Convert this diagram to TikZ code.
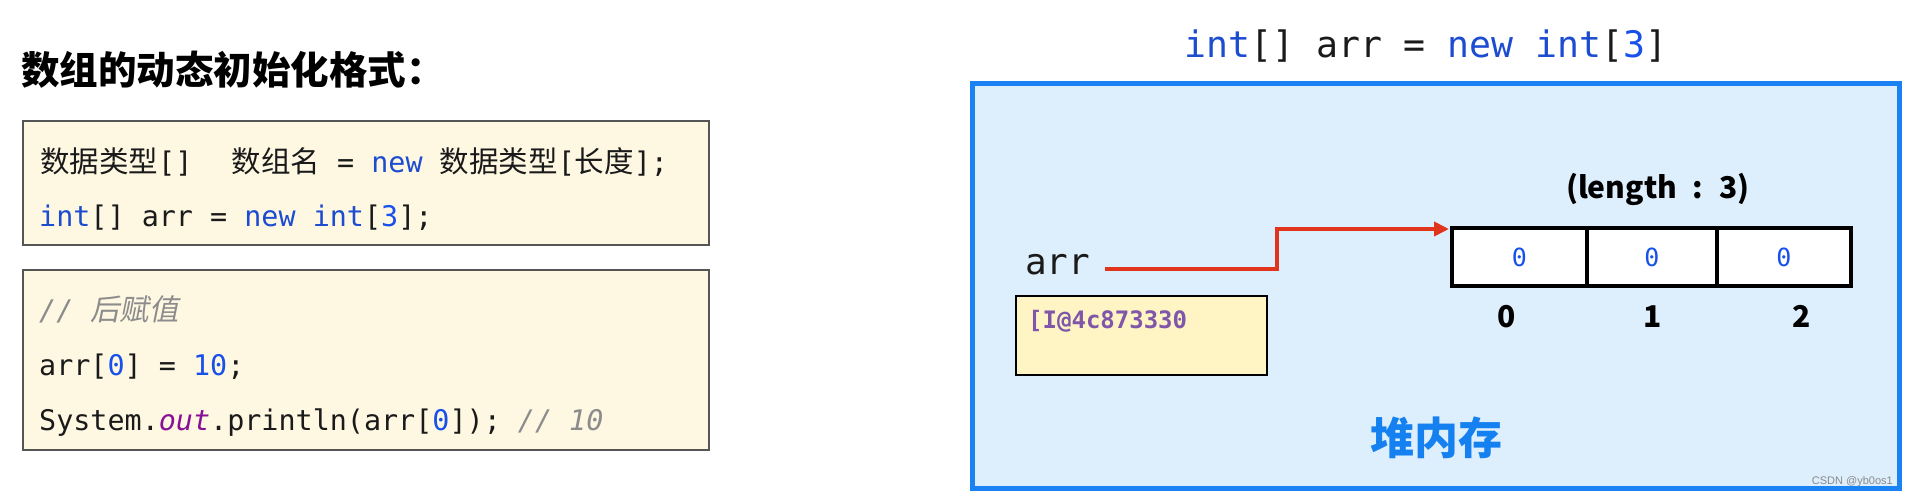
\documentclass[tikz,border=0pt]{standalone}
\usepackage{fontspec}
\usetikzlibrary{arrows.meta}
\newfontfamily\mono{DejaVu Sans Mono}
\newfontfamily\cjk{Noto Sans CJK SC}
\newfontfamily\cjkit[FakeSlant=0.2]{Noto Sans CJK SC}
\newfontfamily\wmfont{Liberation Sans}
\definecolor{codefill}{HTML}{FEF8E3}
\definecolor{codeborder}{HTML}{555555}
\definecolor{codeblack}{HTML}{1A1A1A}
\definecolor{kwblue}{HTML}{1C4CD0}
\definecolor{numblue}{HTML}{1750EB}
\definecolor{cmgray}{HTML}{8C8C8C}
\definecolor{outpurple}{HTML}{871094}
\definecolor{frameblue}{HTML}{1A82F2}
\definecolor{heapfill}{HTML}{DDEEFC}
\definecolor{heapblue}{HTML}{1581F0}
\definecolor{addrfill}{HTML}{FFF4C4}
\definecolor{addrpurple}{HTML}{7F56A9}
\definecolor{arrowred}{HTML}{E0341C}
\definecolor{wmgray}{HTML}{8A8A8A}
\newcommand\zh[1]{{\cjk\fontsize{29.5}{34}\selectfont #1}}
\newcommand\zhit[1]{{\cjkit\fontsize{29.5}{34}\selectfont #1}}
\newcommand\jkw[1]{\textcolor{kwblue}{#1}}
\newcommand\jnum[1]{\textcolor{numblue}{#1}}
\newcommand\jcm[1]{\textcolor{cmgray}{\itshape #1}}
\newcommand\jout[1]{\textcolor{outpurple}{\itshape #1}}
\tikzset{
  codebox/.style={draw=codeborder, line width=1.5pt, fill=codefill, minimum width=686pt, inner sep=0pt},
  codetxt/.style={anchor=base west, inner sep=0pt, text=codeblack, font=\mono\fontsize{28.4}{34}\selectfont},
  heapframe/.style={draw=frameblue, line width=5pt, fill=heapfill, minimum width=927pt, minimum height=405pt, inner sep=0pt},
  cell/.style={draw=black, line width=4pt, fill=white, minimum height=58pt, inner sep=0pt, text=numblue, font=\mono\fontsize{25}{30}\selectfont},
  idx/.style={anchor=base, inner sep=0pt, text=black, font=\cjk\bfseries\fontsize{30}{36}\selectfont},
  addrbox/.style={draw=black, line width=2pt, fill=addrfill, minimum width=251pt, minimum height=79pt, inner sep=0pt},
  redarrow/.style={draw=arrowred, line width=4pt, -{Triangle[length=15pt,width=14pt]}},
}
\begin{document}
\begin{tikzpicture}[x=1pt,y=-1pt]
\fill[white] (0,0) rectangle (1908,499);
\useasboundingbox (0,0) rectangle (1908,499);

% left side
\node[anchor=base west, inner sep=0pt, font=\cjk\bfseries\fontsize{38.5}{46}\selectfont] (title) at (21,84) {数组的动态初始化格式：};

\node[codebox, minimum height=124pt] (box1) at (366,183) {};
\node[codetxt] (l1) at (40,172) {\zh{数据类型}[]\ \ \hspace{5pt}\zh{数组名} = \jkw{new} \zh{数据类型}[\zh{长度}];};
\node[codetxt] (l2) at (39,226) {\jkw{int}[] arr = \jkw{new} \jkw{int}[\jnum{3}];};

\node[codebox, minimum height=180pt] (box2) at (366,360) {};
\node[codetxt] (l3) at (39,320) {\jcm{// \zhit{后赋值}}};
\node[codetxt] (l4) at (39,375) {arr[\jnum{0}] = \jnum{10};};
\node[codetxt] (l5) at (39,430) {System.\jout{out}.println(arr[\jnum{0}]); \jcm{// 10}};

% right side
\node[codetxt, font=\mono\fontsize{36.5}{44}\selectfont] (rtitle) at (1184,57) {\jkw{int}[] arr = \jkw{new} \jkw{int}[\jnum{3}]};

\node[heapframe] (heap) at (1436,286) {};

\node[anchor=base, inner sep=0pt, font=\cjk\bfseries\fontsize{30}{36}\selectfont] (len) at (1658,198) {(length\hspace{8pt} : \hspace{8pt}3)};

\node[cell, minimum width=135pt] (c0) at (1519.5,257) {0};
\node[cell, minimum width=130pt] (c1) at (1652,257) {0};
\node[cell, minimum width=134pt] (c2) at (1784,257) {0};

\node[idx] (i0) at (1507,327) {0};
\node[idx] (i1) at (1653,327) {1};
\node[idx] (i2) at (1802,327) {2};

\node[codetxt, font=\mono\fontsize{36}{44}\selectfont] (arrtxt) at (1025,274) {arr};

\node[addrbox] (addr) at (1141.5,335.5) {};
\node[anchor=base west, inner sep=0pt, text=addrpurple, font=\mono\bfseries\fontsize{24}{28}\selectfont] (addrtxt) at (1028,328) {[I@4c873330};

\coordinate (p0) at (1105,269);
\coordinate (p1) at (1277,229);
\coordinate (p2) at ([xshift=-1pt]c0.west |- p1);
\draw[redarrow] (p0) -| (p1) -- (p2);

\node[inner sep=0pt, text=heapblue, font=\cjk\bfseries\fontsize{44}{52}\selectfont] (heaplbl) at (1436,438) {堆内存};

\node[anchor=base east, inner sep=0pt, text=wmgray, font=\wmfont\fontsize{11}{13}\selectfont] (wm) at (1893,484) {CSDN @yb0os1};
\end{tikzpicture}
\end{document}
